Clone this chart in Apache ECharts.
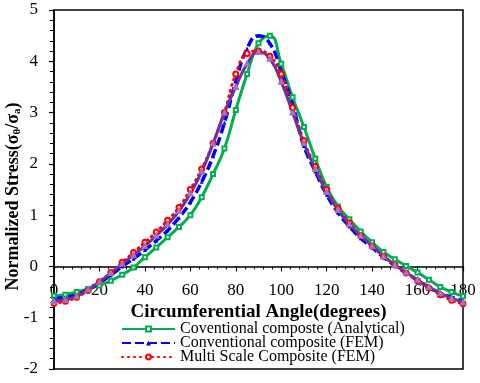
<!DOCTYPE html>
<html>
<head>
    <meta charset="UTF-8">
    <title>Normalized Stress</title>
    <script src="https://cdn.jsdelivr.net/npm/echarts/dist/echarts.min.js"></script>
</head>
<body style="margin:0;">
<div id="chart" style="width: 480px; height: 383px;"></div>

<script>
    const angles = [0, 5, 10, 15, 20, 25, 30, 35, 40, 45, 50, 55, 60, 65, 70, 75, 80, 85, 90,
        95, 100, 105, 110, 115, 120, 125, 130, 135, 140, 145, 150, 155, 160, 165, 170, 175, 180];

    const analytical = [-0.57, -0.55, -0.5, -0.44, -0.37, -0.28, -0.16, -0.02, 0.18, 0.37, 0.57, 0.77,
        1.0, 1.35, 1.8, 2.3, 3.05, 3.75, 4.35, 4.5, 3.95, 3.3, 2.72, 2.1, 1.55, 1.17, 0.92, 0.68,
        0.47, 0.28, 0.14, 0.01, -0.12, -0.26, -0.4, -0.5, -0.58];
    const conventionalFem = [-0.62, -0.6, -0.55, -0.45, -0.32, -0.17, 0.0, 0.15, 0.32, 0.5, 0.7, 0.95,
        1.25, 1.65, 2.15, 2.8, 3.6, 4.25, 4.5, 4.35, 3.8, 3.15, 2.35, 1.85, 1.4, 1.05, 0.78, 0.55,
        0.37, 0.18, 0.02, -0.13, -0.27, -0.4, -0.52, -0.6, -0.67];
    const multiScaleFem = [-0.72, -0.68, -0.6, -0.47, -0.3, -0.12, 0.08, 0.27, 0.47, 0.67, 0.9, 1.15,
        1.5, 1.9, 2.4, 3.0, 3.75, 4.15, 4.2, 4.1, 3.75, 3.1, 2.45, 1.95, 1.5, 1.13, 0.85, 0.6,
        0.4, 0.2, 0.03, -0.13, -0.28, -0.42, -0.55, -0.66, -0.73];
    const fourthCurve = [-0.68, -0.65, -0.58, -0.45, -0.3, -0.13, 0.05, 0.22, 0.4, 0.6, 0.82, 1.08,
        1.42, 1.85, 2.4, 3.0, 3.5, 3.95, 4.18, 4.05, 3.6, 3.0, 2.4, 1.9, 1.45, 1.1, 0.82, 0.6,
        0.4, 0.2, 0.03, -0.12, -0.26, -0.4, -0.52, -0.62, -0.7];

    const xTicks = [0, 180, 20];
    const yTicks = [-2, 5, 1];

    const serif = '"Liberation Serif", "DejaVu Serif", serif';
    const pairs = vals => angles.map((a, i) => [a, vals[i]]);

    // x axis drawn at y = 0: move it up from the bottom edge of the grid
    const gridTop = 10, gridBottom = 14, chartH = 383;
    const plotH = chartH - gridTop - gridBottom;
    const zeroOffset = -plotH * (0 - yTicks[0]) / (yTicks[1] - yTicks[0]);

    const chart = echarts.init(document.getElementById('chart'));
    const option = {
        animation: false,
        grid: {
            left: 54, right: 17, top: gridTop, bottom: gridBottom,
            outerBoundsMode: 'none', containLabel: false,
            show: true, borderColor: '#000', borderWidth: 1.5
        },
        legend: {
            orient: 'vertical',
            left: 116, top: 316,
            itemWidth: 53, itemHeight: 6, itemGap: -2,
            textStyle: { fontFamily: serif, fontSize: 16, color: '#000', lineHeight: 14 },
            data: ['Coventional composte (Analytical)', 'Conventional composite (FEM)', 'Multi Scale Composite (FEM)']
        },
        xAxis: {
            type: 'value',
            position: 'bottom',
            offset: zeroOffset,
            min: xTicks[0], max: xTicks[1], interval: xTicks[2],
            name: 'Circumferential Angle(degrees)',
            nameLocation: 'middle',
            nameGap: 36,
            nameMoveOverlap: false,
            nameTextStyle: { fontFamily: serif, fontSize: 19, fontWeight: 'bold', color: '#000' },
            axisLine: { onZero: false, lineStyle: { color: '#000', width: 1.5 } },
            axisTick: { length: 5, lineStyle: { color: '#000', width: 1.2 } },
            minorTick: { show: true, splitNumber: 5, length: 3, lineStyle: { color: '#000', width: 1 } },
            axisLabel: { fontFamily: serif, fontSize: 17, color: '#000', margin: 16 },
            splitLine: { show: false }
        },
        yAxis: {
            type: 'value',
            min: yTicks[0], max: yTicks[1], interval: yTicks[2],
            name: '{a|Normalized Stress(σ}{s|θ}{a|/σ}{s|a}{a|)}',
            nameLocation: 'middle',
            nameGap: 31,
            nameMoveOverlap: false,
            nameTextStyle: {
                padding: [0, 14, 0, 0],
                rich: {
                    a: { fontFamily: serif, fontSize: 18, fontWeight: 'bold', color: '#000' },
                    s: { fontFamily: serif, fontSize: 11, fontWeight: 'bold', color: '#000', verticalAlign: 'bottom', padding: [8, 0, 0, 0] }
                }
            },
            axisLine: { onZero: false, lineStyle: { color: '#000', width: 1.5 } },
            axisTick: { length: 5, lineStyle: { color: '#000', width: 1.2 } },
            minorTick: { show: true, splitNumber: 5, length: 4, lineStyle: { color: '#000', width: 1 } },
            axisLabel: { fontFamily: serif, fontSize: 17, color: '#000', margin: 16 },
            splitLine: { show: false }
        },
        series: [
            {
                name: 'Coventional composte (Analytical)',
                type: 'line', smooth: true, data: pairs(analytical),
                symbol: 'emptyRect', symbolSize: 4, showAllSymbol: true,
                lineStyle: { color: '#00b050', width: 3 },
                itemStyle: { color: '#00b050', borderWidth: 1 }
            },
            {
                name: 'Conventional composite (FEM)',
                type: 'line', smooth: true, data: pairs(conventionalFem),
                symbol: 'triangle', symbolSize: 4, showAllSymbol: true,
                lineStyle: { color: '#0000ff', width: 3.5, type: [9, 4] },
                itemStyle: { color: '#0000ff' }
            },
            {
                name: 'Multi Scale Composite (FEM)',
                type: 'line', smooth: true, data: pairs(multiScaleFem),
                symbol: 'emptyCircle', symbolSize: 5, showAllSymbol: true,
                lineStyle: { color: '#ff0000', width: 3, type: [1, 5], cap: 'round' },
                itemStyle: { color: '#ff0000', borderWidth: 1 }
            },
            {
                name: 'fourth',
                type: 'line', smooth: true, data: pairs(fourthCurve),
                symbol: 'emptyTriangle', symbolSize: 4, showAllSymbol: true,
                lineStyle: { color: '#7030a0', width: 3 },
                itemStyle: { color: '#9b6fc4', borderWidth: 1 }
            }
        ]
    };

    chart.setOption(option);
</script>
</body>
</html>
